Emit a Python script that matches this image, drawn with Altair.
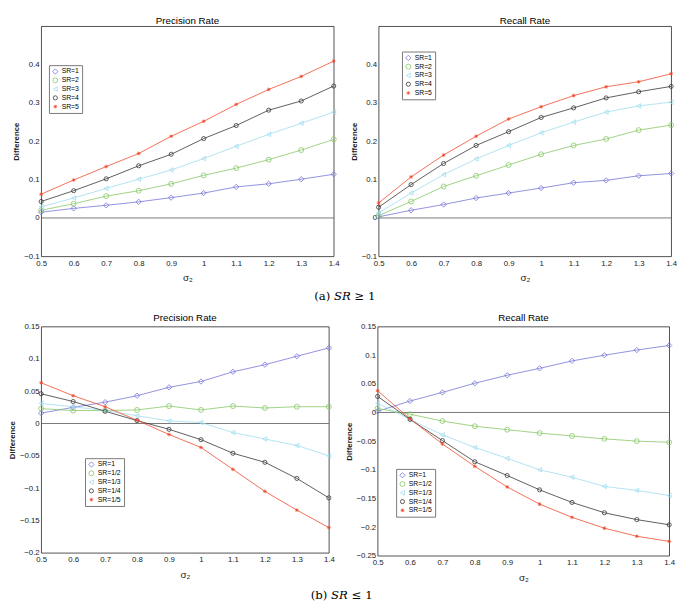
import altair as alt
import pandas as pd

sigma = [0.5, 0.6, 0.7, 0.8, 0.9, 1.0, 1.1, 1.2, 1.3, 1.4]

labels_a = ["SR=1", "SR=2", "SR=3", "SR=4", "SR=5"]
labels_b = ["SR=1", "SR=1/2", "SR=1/3", "SR=1/4", "SR=1/5"]

prec_a = [
    [0.015, 0.025, 0.033, 0.042, 0.053, 0.065, 0.081, 0.089, 0.101, 0.114],
    [0.020, 0.037, 0.057, 0.071, 0.089, 0.111, 0.130, 0.152, 0.177, 0.205],
    [0.029, 0.052, 0.077, 0.101, 0.125, 0.155, 0.187, 0.218, 0.247, 0.276],
    [0.043, 0.071, 0.102, 0.136, 0.166, 0.207, 0.241, 0.281, 0.305, 0.344],
    [0.062, 0.099, 0.134, 0.168, 0.213, 0.252, 0.296, 0.335, 0.369, 0.409],
]
rec_a = [
    [0.003, 0.020, 0.035, 0.052, 0.065, 0.078, 0.092, 0.098, 0.110, 0.116],
    [0.006, 0.043, 0.082, 0.110, 0.138, 0.166, 0.189, 0.206, 0.229, 0.242],
    [0.013, 0.065, 0.113, 0.154, 0.189, 0.222, 0.250, 0.276, 0.292, 0.302],
    [0.028, 0.087, 0.142, 0.189, 0.225, 0.262, 0.287, 0.313, 0.329, 0.343],
    [0.039, 0.107, 0.164, 0.213, 0.258, 0.290, 0.319, 0.342, 0.355, 0.376],
]
prec_b = [
    [0.016, 0.025, 0.033, 0.043, 0.056, 0.065, 0.080, 0.091, 0.104, 0.117],
    [0.023, 0.020, 0.020, 0.021, 0.027, 0.021, 0.027, 0.024, 0.026, 0.026],
    [0.031, 0.026, 0.020, 0.012, 0.004, 0.0015, -0.014, -0.024, -0.034, -0.050],
    [0.046, 0.034, 0.019, 0.0045, -0.009, -0.025, -0.046, -0.060, -0.085, -0.115],
    [0.063, 0.043, 0.026, 0.005, -0.017, -0.037, -0.071, -0.105, -0.134, -0.161],
]
rec_b = [
    [0.002, 0.020, 0.035, 0.051, 0.065, 0.077, 0.090, 0.100, 0.109, 0.117],
    [0.007, -0.003, -0.015, -0.024, -0.030, -0.036, -0.041, -0.046, -0.050, -0.052],
    [0.016, -0.012, -0.039, -0.061, -0.080, -0.100, -0.113, -0.129, -0.136, -0.145],
    [0.028, -0.012, -0.049, -0.086, -0.110, -0.135, -0.157, -0.175, -0.187, -0.196],
    [0.038, -0.011, -0.055, -0.094, -0.130, -0.160, -0.183, -0.202, -0.216, -0.225],
]

colors = ["#7474d6", "#86c864", "#9fdcee", "#333333", "#f04a2c"]
asterisk = "M-1,0L1,0M0,-1L0,1M-0.7,-0.7L0.7,0.7M-0.7,0.7L0.7,-0.7"
shapes = ["diamond", "circle", "triangle-left", "circle", asterisk]
sizes = [30, 14, 28, 40, 16]

FONT = "Liberation Sans"


def make_df(labels, series):
    rows = []
    for lab, vals in zip(labels, series):
        for s, v in zip(sigma, vals):
            rows.append({"sigma": s, "value": v, "series": lab})
    return pd.DataFrame(rows)


def panel(title, labels, series, ydomain, yticks, width, height, lx, ly):
    df = make_df(labels, series)
    legend = alt.Legend(
        orient="none", legendX=lx, legendY=ly, title=None,
        fillColor="white", strokeColor="#777777", padding=3,
        labelFontSize=7, labelFont=FONT, symbolSize=22,
        symbolStrokeWidth=0.8, rowPadding=0, labelOffset=3,
    )
    x = alt.X("sigma:Q", scale=alt.Scale(domain=[0.5, 1.4], nice=False, zero=False),
              axis=alt.Axis(values=sigma, tickCount=30, format="~g", title="σ₂",
                            labelOverlap=False, labelFlush=False, labelBound=False,
                            labelPadding=3))
    y = alt.Y("value:Q", scale=alt.Scale(domain=ydomain, nice=False, zero=False),
              axis=alt.Axis(values=yticks, tickCount=30, format="~g", title="Difference",
                            labelOverlap=False, labelFlush=False, labelBound=False))
    color = alt.Color("series:N", scale=alt.Scale(domain=labels, range=colors),
                      sort=labels, legend=legend)
    zero = alt.Chart(pd.DataFrame({"z": [0]})).mark_rule(
        color="#555555", strokeWidth=0.8).encode(y="z:Q")
    lines = alt.Chart(df).mark_line(strokeWidth=0.8).encode(
        x=x, y=y, color=color, detail="series:N")
    pts = alt.Chart(df).mark_point(filled=False, strokeWidth=0.8, opacity=1).encode(
        x=x, y=y, color=color,
        shape=alt.Shape("series:N", scale=alt.Scale(domain=labels, range=shapes),
                        sort=labels, legend=legend),
        size=alt.Size("series:N", scale=alt.Scale(domain=labels, range=sizes), legend=None),
    )
    return alt.layer(zero, lines, pts).properties(
        width=width, height=height,
        title=alt.TitleParams(title, fontSize=10, fontWeight="normal", font=FONT, offset=0),
    )


p1 = panel("Precision Rate", labels_a, prec_a, [-0.1, 0.5],
           [-0.1, 0, 0.1, 0.2, 0.3, 0.4], 300, 236, 8, 40)
p2 = panel("Recall Rate", labels_a, rec_a, [-0.1, 0.5],
           [-0.1, 0, 0.1, 0.2, 0.3, 0.4], 300, 236, 24, 26)
p3 = panel("Precision Rate", labels_b, prec_b, [-0.2, 0.15],
           [-0.2, -0.15, -0.1, -0.05, 0, 0.05, 0.1, 0.15], 295, 232, 45, 135)
p4 = panel("Recall Rate", labels_b, rec_b, [-0.25, 0.15],
           [-0.25, -0.2, -0.15, -0.1, -0.05, 0, 0.05, 0.1, 0.15], 299, 235, 19, 146)

cap = dict(orient="bottom", font="DejaVu Serif, Liberation Serif", fontSize=12,
           fontWeight="normal", anchor="middle", offset=8)

row1 = alt.hconcat(p1, p2, spacing=10).resolve_scale(
    color="independent", shape="independent", size="independent").properties(
    title=alt.TitleParams("(a) 𝑆𝑅 ≥ 1", **cap))
row2 = alt.hconcat(p3, p4, spacing=10).resolve_scale(
    color="independent", shape="independent", size="independent").properties(
    title=alt.TitleParams("(b) 𝑆𝑅 ≤ 1", **cap))

chart = alt.vconcat(row1, row2, spacing=10).resolve_scale(
    color="independent", shape="independent", size="independent"
).configure(padding=0, background="white").configure_view(
    stroke="#222222", strokeWidth=0.8
).configure_axis(
    domain=False, ticks=False, grid=False, labelFont=FONT, labelFontSize=8,
    labelColor="#222222", labelPadding=2, titleFont=FONT, titleFontSize=8,
    titleFontWeight="bold", titleColor="#222222", titlePadding=3,
).configure_axisX(titleFontSize=10, titleFontWeight="normal", titlePadding=6)

chart.save("out.html", embed_options={"renderer": "svg", "actions": False})
